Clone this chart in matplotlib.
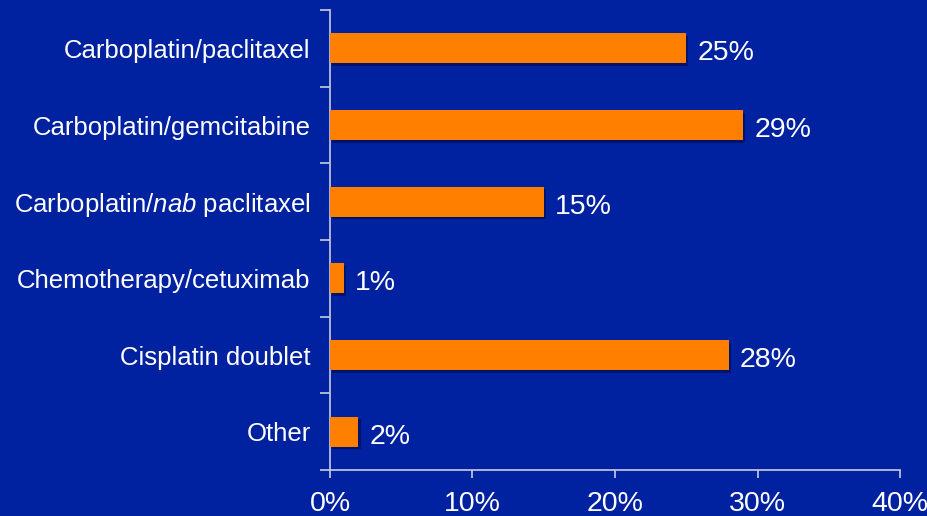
import matplotlib.pyplot as plt
import matplotlib.patheffects as pe
from matplotlib.ticker import FuncFormatter

# regimen share data
regimens = ['Carboplatin/paclitaxel', 'Carboplatin/gemcitabine',
            'Carboplatin/$\\mathit{nab}$ paclitaxel', 'Chemotherapy/cetuximab',
            'Cisplatin doublet', 'Other']
shares = [25, 29, 15, 1, 28, 2]
xticks = [0, 10, 20, 30, 40]

bg = '#0022a0'
orange = '#ff8000'
axcol = '#c8cce0'

plt.rcParams['font.family'] = 'Liberation Sans'
plt.rcParams['mathtext.fontset'] = 'custom'
plt.rcParams['mathtext.rm'] = 'Liberation Sans'
plt.rcParams['mathtext.it'] = 'Liberation Sans:italic'

fig = plt.figure(figsize=(9.28, 5.16), dpi=100, facecolor=bg)
ax = fig.add_axes([330/928, 46/516, 570/928, 460/516], facecolor=bg)

ypos = list(range(len(regimens)))
bars = ax.barh(ypos, shares, height=0.39, color=orange, zorder=3)
for b in bars:
    b.set_path_effects([pe.SimplePatchShadow(offset=(1.5, -2), shadow_rgbFace='#001060', alpha=0.8),
                        pe.Normal()])

for y, v in zip(ypos, shares):
    ax.annotate(f'{v}%', xy=(v, y), xytext=(8, -1.5), textcoords='offset points',
                va='center_baseline', ha='left', color='white', fontsize=20.5)

ax.set_xlim(0, 40)
ax.set_ylim(len(regimens) - 0.5, -0.5)
ax.set_xticks(xticks)
ax.xaxis.set_major_formatter(FuncFormatter(lambda x, p: f'{x:.0f}%'))

# category labels centred, ticks on the boundaries
ax.set_yticks(ypos)
ax.set_yticklabels(regimens)
ax.set_yticks([i - 0.5 for i in range(len(regimens) + 1)], minor=True)
ax.tick_params(axis='y', which='major', length=0, pad=14, labelsize=18.5, labelcolor='white')
ax.tick_params(axis='y', which='minor', length=7, width=1.2, color=axcol)
ax.tick_params(axis='x', length=6, width=1.2, color=axcol, pad=9,
               labelsize=20.5, labelcolor='white')

for s in ['top', 'right']:
    ax.spines[s].set_visible(False)
for s in ['left', 'bottom']:
    ax.spines[s].set_color(axcol)
    ax.spines[s].set_linewidth(1.2)

fig.savefig('out.png', dpi=100, facecolor=bg)
